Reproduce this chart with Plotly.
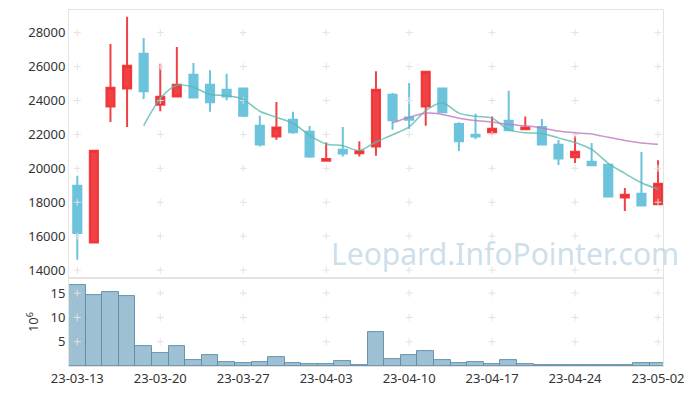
import pandas as pd
import plotly.graph_objects as go
from plotly.subplots import make_subplots

dates = ["23-03-13", "23-03-14", "23-03-15", "23-03-16", "23-03-17",
         "23-03-20", "23-03-21", "23-03-22", "23-03-23", "23-03-24",
         "23-03-27", "23-03-28", "23-03-29", "23-03-30", "23-03-31",
         "23-04-03", "23-04-04", "23-04-05", "23-04-06", "23-04-07",
         "23-04-10", "23-04-11", "23-04-12", "23-04-13", "23-04-14",
         "23-04-17", "23-04-18", "23-04-19", "23-04-20", "23-04-21",
         "23-04-24", "23-04-25", "23-04-26", "23-04-27", "23-04-28",
         "23-05-02"]

open_ = [18970, 15630, 23650, 24710, 26760, 23750, 24240, 25520, 24930, 24640,
         24700, 22510, 21880, 22870, 22160, 20450, 21100, 20890, 21290, 24340,
         23000, 23650, 24700, 22610, 21980, 22120, 22810, 22300, 22440, 21390,
         20660, 20390, 20210, 18280, 18500, 17880]
high = [19560, 21040, 27330, 28930, 27690, 26170, 27160, 26210, 25780, 25580,
        24700, 23100, 23910, 23340, 22500, 21530, 22440, 21590, 25720, 24440,
        25030, 25740, 24750, 22710, 23220, 23060, 24580, 23060, 22910, 21690,
        21920, 21500, 20270, 18840, 20960, 20470]
low = [14610, 15630, 22730, 22440, 24090, 23360, 24210, 24180, 23340, 24010,
       23030, 21290, 21690, 22040, 20630, 20450, 20700, 20700, 20740, 22280,
       22320, 22510, 23300, 21020, 21730, 21980, 22240, 22240, 21410, 20190,
       20310, 20180, 18340, 17480, 17780, 17880]
close = [16180, 21040, 24750, 26050, 24540, 24220, 24930, 24180, 23890, 24240,
         23100, 21410, 22410, 22120, 20700, 20550, 20880, 21000, 24640, 22830,
         22860, 25700, 23300, 21590, 21880, 22340, 22240, 22410, 21410, 20580,
         20980, 20180, 18340, 18440, 17810, 19090]
volume_m = [16.6, 14.7, 15.3, 14.3, 4.05, 2.6, 4.05, 1.17, 2.2, 0.76,
            0.55, 0.76, 1.8, 0.55, 0.35, 0.35, 0.96, 0.2, 6.9, 1.37,
            2.25, 3.0, 1.17, 0.55, 0.76, 0.35, 1.17, 0.35, 0.15, 0.15,
            0.15, 0.15, 0.15, 0.15, 0.55, 0.55]

price_ticks = [14000, 16000, 18000, 20000, 22000, 24000, 26000, 28000]
vol_ticks = [5, 10, 15]
x_ticks = dates[::5]

ma5 = pd.Series(close).rolling(5).mean()
ma20 = pd.Series(close).rolling(20).mean()

RED = "rgba(238,45,48,0.9)"
BLUE = "#6cc3dc"
FONT = "Noto Sans"
CROSS = "#e2e2e2"

fig = make_subplots(rows=2, cols=1, shared_xaxes=True, vertical_spacing=0,
                    row_heights=[0.753, 0.247])

# grid crosses
gx = [d for d in x_ticks for _ in price_ticks]
gy = [p for _ in x_ticks for p in price_ticks]
fig.add_trace(go.Scatter(x=gx, y=gy, mode="markers", hoverinfo="skip",
                         marker=dict(symbol="cross-thin", size=5,
                                     line=dict(color=CROSS, width=1))),
              row=1, col=1)
vx = [d for d in x_ticks for _ in vol_ticks]
vy = [v for _ in x_ticks for v in vol_ticks]
fig.add_trace(go.Scatter(x=vx, y=vy, mode="markers", hoverinfo="skip",
                         marker=dict(symbol="cross-thin", size=5,
                                     line=dict(color=CROSS, width=1))),
              row=2, col=1)

fig.add_trace(go.Candlestick(
    x=dates, open=open_, high=high, low=low, close=close,
    increasing=dict(line=dict(color=RED, width=2), fillcolor=RED),
    decreasing=dict(line=dict(color=BLUE, width=2), fillcolor=BLUE),
    whiskerwidth=0, hoverinfo="skip"), row=1, col=1)

fig.add_trace(go.Scatter(x=dates, y=ma5, mode="lines",
                         line=dict(color="rgba(90,185,175,0.8)", width=1.5,
                                   shape="spline", smoothing=0.8),
                         hoverinfo="skip"), row=1, col=1)
fig.add_trace(go.Scatter(x=dates, y=ma20, mode="lines",
                         line=dict(color="rgba(190,120,190,0.8)", width=1.5,
                                   shape="spline", smoothing=0.8),
                         hoverinfo="skip"), row=1, col=1)

fig.add_trace(go.Bar(x=dates, y=volume_m,
                     marker=dict(color="rgba(130,175,198,0.78)",
                                 line=dict(color="rgba(95,140,168,0.9)", width=1)),
                     hoverinfo="skip"), row=2, col=1)

fig.update_layout(
    width=696, height=396,
    margin=dict(l=69, r=33, t=10, b=30),
    paper_bgcolor="white", plot_bgcolor="white",
    showlegend=False, bargap=0,
    font=dict(family=FONT, size=13, color="#333333"),
)

axis_common = dict(showgrid=False, zeroline=False, showline=True,
                   linecolor="#e3e3e3", linewidth=1, mirror=True, ticks="",
                   automargin=False)

fig.update_xaxes(type="category", categoryorder="array", categoryarray=dates,
                 range=[-0.5, 35.3], tickvals=x_ticks, ticktext=x_ticks,
                 tickangle=0, rangeslider=dict(visible=False),
                 **axis_common)
fig.update_xaxes(showticklabels=False, row=1, col=1)
fig.update_xaxes(showticklabels=True, tickfont=dict(size=13, color="#333333"),
                 row=2, col=1)

fig.update_yaxes(range=[13530, 29335], tickvals=price_ticks,
                 ticktext=[str(p) for p in price_ticks],
                 tickfont=dict(size=13, color="#333333"),
                 row=1, col=1, **axis_common)
fig.update_yaxes(range=[0, 18.1], tickvals=vol_ticks,
                 ticktext=[str(v) for v in vol_ticks],
                 tickfont=dict(size=13, color="#333333"),
                 title=dict(text="10<sup>6</sup>", font=dict(size=13, color="#333333"),
                            standoff=8),
                 row=2, col=1, **axis_common)

fig.add_annotation(text="Leopard.InfoPointer.com", xref="paper", yref="paper",
                   x=1.03, y=0.315, xanchor="right", yanchor="middle",
                   showarrow=False,
                   font=dict(family=FONT, size=30, color="rgba(160,195,218,0.55)"))

fig.write_html("out.html", config={"displayModeBar": False},
               post_script="document.body.style.margin='0';document.body.style.padding='0';")
